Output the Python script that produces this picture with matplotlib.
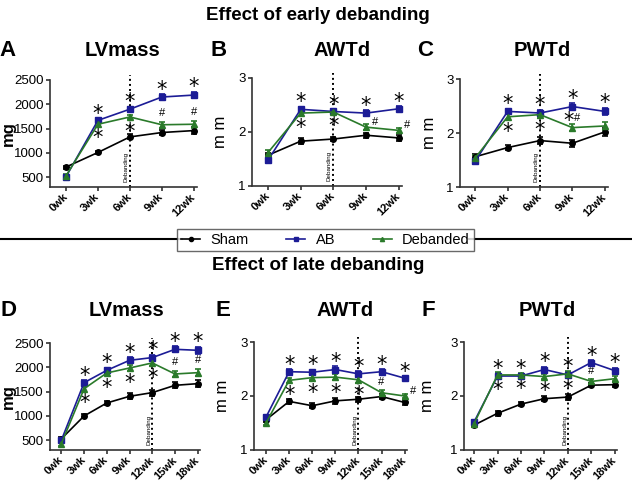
import numpy as np
import matplotlib.pyplot as plt
from matplotlib.lines import Line2D

plt.rcParams['font.family'] = ['Liberation Sans', 'DejaVu Sans']

W, H = 632, 482

weeks_early = ['0wk', '3wk', '6wk', '9wk', '12wk']
weeks_late = ['0wk', '3wk', '6wk', '9wk', '12wk', '15wk', '18wk']

# early debanding
lv_e_sham = [710, 1010, 1330, 1420, 1460]
lv_e_ab = [510, 1670, 1900, 2150, 2190]
lv_e_deb = [530, 1590, 1740, 1580, 1590]
lv_e_err = [30, 40, 50, 60, 70]

awt_e_sham = [1.57, 1.83, 1.87, 1.94, 1.89]
awt_e_ab = [1.48, 2.42, 2.38, 2.35, 2.43]
awt_e_deb = [1.62, 2.35, 2.37, 2.09, 2.03]
awt_e_err = [0.05, 0.05, 0.04, 0.05, 0.05]

pwt_e_sham = [1.56, 1.73, 1.86, 1.81, 2.02]
pwt_e_ab = [1.48, 2.40, 2.37, 2.49, 2.40]
pwt_e_deb = [1.54, 2.30, 2.34, 2.10, 2.13]
pwt_e_err = [0.06, 0.05, 0.06, 0.06, 0.07]

# late debanding
lv_l_sham = [530, 1000, 1267, 1404, 1480, 1630, 1664]
lv_l_ab = [500, 1685, 1938, 2144, 2200, 2370, 2350]
lv_l_deb = [430, 1560, 1884, 1986, 2090, 1863, 1890]
lv_l_err = [40, 50, 50, 60, 60, 60, 70]

awt_l_sham = [1.56, 1.90, 1.82, 1.91, 1.94, 1.99, 1.88]
awt_l_ab = [1.61, 2.45, 2.44, 2.49, 2.41, 2.45, 2.33]
awt_l_deb = [1.50, 2.29, 2.34, 2.35, 2.30, 2.06, 2.00]
awt_l_err = [0.04, 0.05, 0.05, 0.06, 0.05, 0.05, 0.04]

pwt_l_sham = [1.46, 1.68, 1.85, 1.95, 1.98, 2.20, 2.21]
pwt_l_ab = [1.52, 2.37, 2.37, 2.49, 2.39, 2.62, 2.47]
pwt_l_deb = [1.49, 2.39, 2.39, 2.36, 2.41, 2.27, 2.32]
pwt_l_err = [0.04, 0.05, 0.04, 0.05, 0.06, 0.04, 0.05]

c_sham, c_ab, c_deb = 'black', '#1c1c96', '#2a7a2a'

fig = plt.figure(figsize=(W / 100, H / 100), dpi=100)


def px_axes(left, top, width, height):
    return fig.add_axes([left / W, 1 - (top + height) / H, width / W, height / H])


def star(ax, x, y, dy, dx=0):
    ax.annotate('*', (x, y), xytext=(dx, dy), textcoords='offset points',
                ha='center', va='bottom', fontsize=15, family='DejaVu Sans')


def hash_(ax, x, y, dx, dy, ha='center', va='bottom'):
    ax.annotate('#', (x, y), xytext=(dx, dy), textcoords='offset points',
                ha=ha, va=va, fontsize=8)


def panel(rect, labels, sham, ab, deb, err, ylim, yticks, ylabel, xlim,
          deband_idx, letter, title, letter_xy, title_xy, ylab_x):
    ax = px_axes(*rect)
    x = np.arange(len(labels))
    for vals, c, m, ms in [(sham, c_sham, 'o', 4), (ab, c_ab, 's', 4.5), (deb, c_deb, '^', 4)]:
        ax.errorbar(x, vals, yerr=err, color=c, marker=m, ms=ms, lw=1.2,
                    elinewidth=1.2, capsize=2, capthick=1.2, clip_on=False, zorder=3)
    ax.set_xlim(*xlim)
    ax.set_ylim(*ylim)
    ax.set_yticks(yticks)
    ax.set_yticklabels([str(t) for t in yticks], fontsize=9.5)
    ax.set_xticks(x)
    ax.set_xticklabels(labels, rotation=45, ha='right', va='center',
                       rotation_mode='anchor', fontsize=8, fontweight='bold')
    for s in ['top', 'right']:
        ax.spines[s].set_visible(False)
    for s in ['left', 'bottom']:
        ax.spines[s].set_linewidth(1.2)
        ax.spines[s].set_color('#333333')
    ax.tick_params(width=1.2, length=3, color='#333333', pad=1.5)
    ax.tick_params(axis='x', pad=3)
    ax.set_ylabel(ylabel, fontsize=12, fontweight='bold' if ylabel == 'mg' else 'normal')
    ax.yaxis.set_label_coords(ylab_x, 0.5)
    ax.axvline(deband_idx, ymin=0, ymax=1.05, color='black', lw=1.4,
               ls=(0, (1, 1.6)), clip_on=False, zorder=1)
    ax.text(deband_idx - 0.13, ylim[0] + (ylim[1] - ylim[0]) * 0.05, 'Debanding',
            rotation=90, fontsize=4.5, ha='center', va='bottom')
    fig.text(letter_xy[0] / W, 1 - letter_xy[1] / H, letter, fontsize=16,
             fontweight='bold', ha='center', va='center')
    fig.text(title_xy[0] / W, 1 - title_xy[1] / H, title, fontsize=14.5,
             fontweight='bold', ha='center', va='center')
    return ax


# early panels
axA = panel((50, 80, 147, 107), weeks_early, lv_e_sham, lv_e_ab, lv_e_deb, lv_e_err,
            (300, 2500), [500, 1000, 1500, 2000, 2500], 'mg', (-0.5, 4.1), 2,
            'A', 'LVmass', (8, 50), (123, 50), -0.23)
axB = panel((252, 78, 150, 108), weeks_early, awt_e_sham, awt_e_ab, awt_e_deb, awt_e_err,
            (1, 3), [1, 2, 3], 'm m', (-0.49, 4.1), 2,
            'B', 'AWTd', (219, 50), (342, 50), -0.16)
axC = panel((460, 79, 148, 108), weeks_early, pwt_e_sham, pwt_e_ab, pwt_e_deb, pwt_e_err,
            (1, 3), [1, 2, 3], 'm m', (-0.47, 4.1), 2,
            'C', 'PWTd', (425, 50), (542, 50), -0.155)

# late panels
axD = panel((50, 343, 150, 107), weeks_late, lv_l_sham, lv_l_ab, lv_l_deb, lv_l_err,
            (300, 2500), [500, 1000, 1500, 2000, 2500], 'mg', (-0.5, 6.1), 4,
            'D', 'LVmass', (8, 310), (127, 310), -0.227)
axE = panel((254, 342, 153, 108), weeks_late, awt_l_sham, awt_l_ab, awt_l_deb, awt_l_err,
            (1, 3), [1, 2, 3], 'm m', (-0.52, 6.1), 4,
            'E', 'AWTd', (223, 310), (345, 310), -0.157)
axF = panel((464, 342, 153, 108), weeks_late, pwt_l_sham, pwt_l_ab, pwt_l_deb, pwt_l_err,
            (1, 3), [1, 2, 3], 'm m', (-0.43, 6.1), 4,
            'F', 'PWTd', (428, 310), (547, 310), -0.19)

# significance marks
for ax, ab, deb, err, ab_idx, deb_idx in [
        (axA, lv_e_ab, lv_e_deb, lv_e_err, [1, 2, 3, 4], [1, 2]),
        (axB, awt_e_ab, awt_e_deb, awt_e_err, [1, 2, 3, 4], [1, 2]),
        (axC, pwt_e_ab, pwt_e_deb, pwt_e_err, [1, 2, 3, 4], [1, 2]),
        (axD, lv_l_ab, lv_l_deb, lv_l_err, [1, 2, 3, 4, 5, 6], [1, 2, 3, 4]),
        (axE, awt_l_ab, awt_l_deb, awt_l_err, [1, 2, 3, 4, 5, 6], [1, 2, 3, 4]),
        (axF, pwt_l_ab, pwt_l_deb, pwt_l_err, [1, 2, 3, 4, 5, 6], [1, 2, 3, 4])]:
    for i in ab_idx:
        star(ax, i, ab[i] + err[i], -4)
    for i in deb_idx:
        star(ax, i, deb[i] - err[i], -16)

hash_(axA, 3, lv_e_deb[3] + lv_e_err[3], 0, 3)
hash_(axA, 4, lv_e_deb[4] + lv_e_err[4], 0, 3)
hash_(axB, 3, awt_e_deb[3], 4, 0, ha='left')
hash_(axB, 4, awt_e_deb[4], 4, 0, ha='left')
star(axC, 3, pwt_e_deb[3] + pwt_e_err[3], -5, dx=-3)
hash_(axC, 3, pwt_e_deb[3] + pwt_e_err[3], 1, 1, ha='left')
hash_(axD, 5, lv_l_deb[5] + lv_l_err[5], 0, 3)
hash_(axD, 6, lv_l_deb[6] + lv_l_err[6], 0, 3)
hash_(axE, 5, awt_l_deb[5] + awt_l_err[5], 0, 2)
hash_(axE, 6, awt_l_deb[6], 4, 0, ha='left')
hash_(axF, 5, pwt_l_deb[5] + pwt_l_err[5], 0, 2)

# main titles
fig.text(318 / W, 1 - 15 / H, 'Effect of early debanding', fontsize=13.5,
         fontweight='bold', ha='center', va='center')
fig.text(318 / W, 1 - 265 / H, 'Effect of late debanding', fontsize=13.5,
         fontweight='bold', ha='center', va='center')

# separator line and legend
fig.add_artist(Line2D([0, 182 / W], [1 - 239 / H] * 2, color='black', lw=1.5))
fig.add_artist(Line2D([469 / W, 1], [1 - 239 / H] * 2, color='black', lw=1.5))
handles = [Line2D([], [], color=c_sham, marker='o', ms=3, lw=1.2),
           Line2D([], [], color=c_ab, marker='s', ms=3, lw=1.2),
           Line2D([], [], color=c_deb, marker='^', ms=3, lw=1.2)]
fig.legend(handles, ['Sham', 'AB', 'Debanded'], loc='center',
           bbox_to_anchor=(325.5 / W, 1 - 240 / H), ncol=3, fontsize=10.5,
           frameon=True, fancybox=False, edgecolor='#444444', handlelength=1.3,
           handletextpad=0.7, columnspacing=2.6, borderpad=0.3, borderaxespad=0)

fig.savefig('out.png', dpi=100)
